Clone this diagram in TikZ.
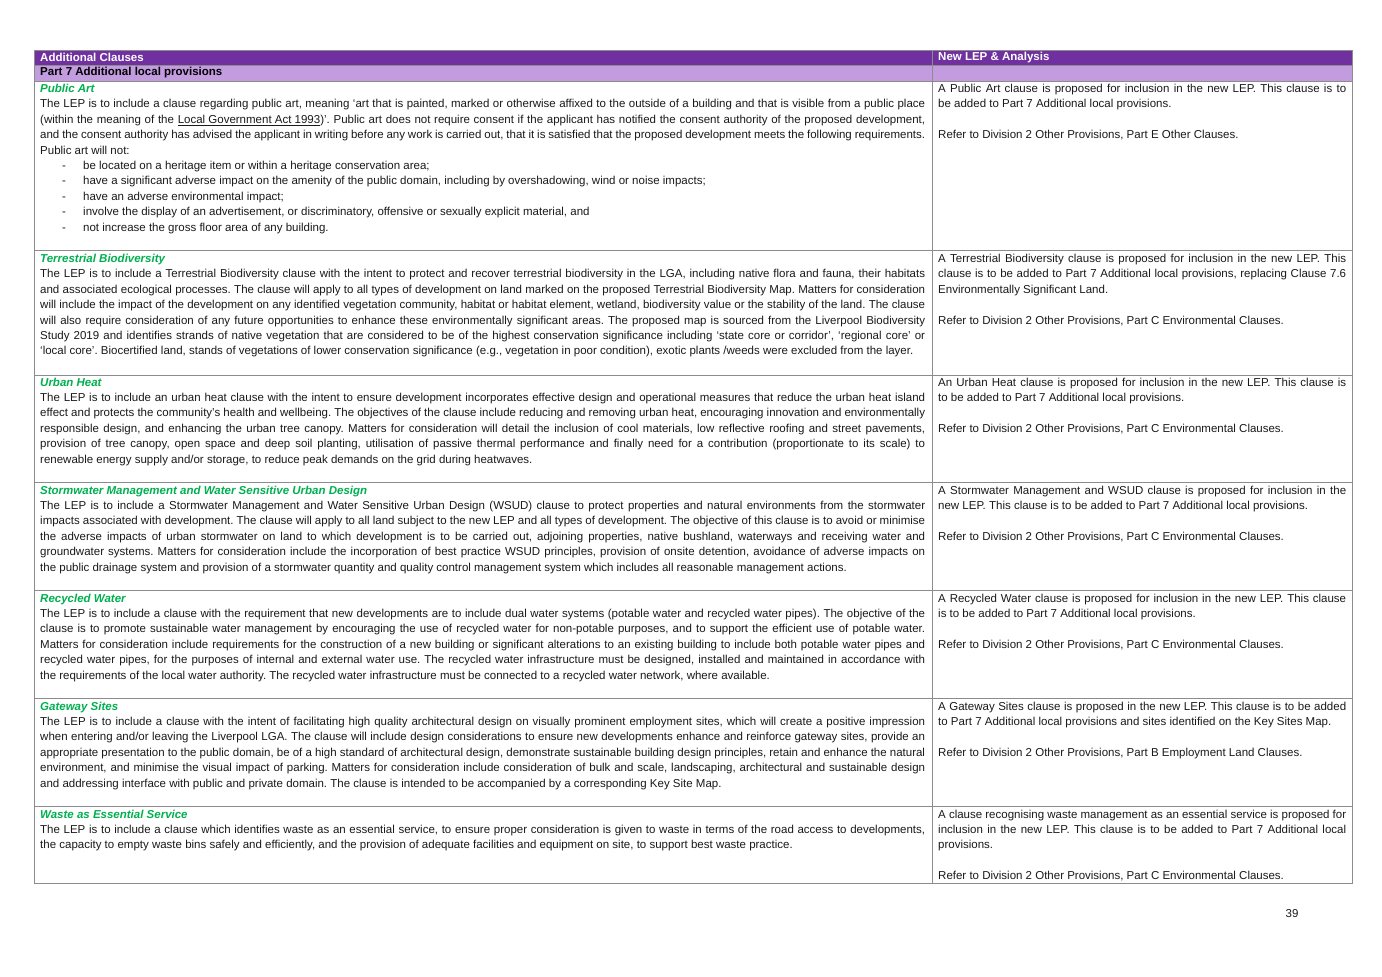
\documentclass[tikz,border=0pt]{standalone}
\usepackage{fontspec}
\setmainfont{Liberation Sans}
\frenchspacing
\definecolor{dpurple}{HTML}{7030A0}
\definecolor{lpurple}{HTML}{C39BDF}
\definecolor{tgreen}{HTML}{00B050}
\definecolor{txt}{HTML}{1A1A1A}
\definecolor{grid}{HTML}{8C8C8C}
\newcommand{\ttl}[1]{{\color{tgreen}\bfseries\itshape #1}\par}
\newcommand{\blankl}{\par\mbox{}\par}
\newcommand{\bul}[1]{\par\hspace*{22pt}\makebox[21pt][l]{-}#1}
\tikzset{
 lcell/.style={anchor=north west,inner sep=0pt,text width=885pt,align=justify,text=txt,font=\fontsize{11.5}{15.4}\selectfont\frenchspacing},
 rcell/.style={lcell,text width=408pt},
 hdr/.style={anchor=west,inner sep=0pt,font=\fontsize{11.5}{12}\selectfont\bfseries}
}
\begin{document}
\begin{tikzpicture}[x=1pt,y=-1pt]
\fill[white] (0,0) rectangle (1382,977);
\useasboundingbox (0,0) rectangle (1382,977);
\fill[dpurple] (34,50) rectangle (1352,65);
\fill[lpurple] (34,65) rectangle (1352,81);
\draw[grid,line width=0.7pt] (34,50) rectangle (1352,883);
\draw[grid,line width=0.7pt] (932,50) -- (932,883);
\foreach \yy in {65,81,250,375,482,590,698,806}
  \draw[grid,line width=0.7pt] (34,\yy) -- (1352,\yy);
\node[hdr,text=white] (h1) at (40,57.5) {Additional Clauses};
\node[hdr,text=white] (h2) at (938,57.5) {New LEP \& Analysis};
\node[hdr,text=black] (h3) at (40,73) {Part 7 Additional local provisions};

\node[lcell] (l1) at (40,84) {\ttl{Public Art}
The LEP is to include a clause regarding public art, meaning ‘art that is painted, marked or otherwise affixed to the outside of a building and that is visible from a public place\linebreak
(within the meaning of the \underline{Local Government Act 1993})’. Public art does not require consent if the applicant has notified the consent authority of the proposed development,\linebreak
and the consent authority has advised the applicant in writing before any work is carried out, that it is satisfied that the proposed development meets the following requirements.\linebreak
Public art will not:
\bul{be located on a heritage item or within a heritage conservation area;}
\bul{have a significant adverse impact on the amenity of the public domain, including by overshadowing, wind or noise impacts;}
\bul{have an adverse environmental impact;}
\bul{involve the display of an advertisement, or discriminatory, offensive or sexually explicit material, and}
\bul{not increase the gross floor area of any building.}};
\node[rcell] (r1) at (938,84) {A Public Art clause is proposed for inclusion in the new LEP. This clause is to\linebreak
be added to Part 7 Additional local provisions.\blankl
Refer to Division 2 Other Provisions, Part E Other Clauses.};

\node[lcell] (l2) at (40,254) {\ttl{Terrestrial Biodiversity}
The LEP is to include a Terrestrial Biodiversity clause with the intent to protect and recover terrestrial biodiversity in the LGA, including native flora and fauna, their habitats\linebreak
and associated ecological processes. The clause will apply to all types of development on land marked on the proposed Terrestrial Biodiversity Map. Matters for consideration\linebreak
will include the impact of the development on any identified vegetation community, habitat or habitat element, wetland, biodiversity value or the stability of the land. The clause\linebreak
will also require consideration of any future opportunities to enhance these environmentally significant areas. The proposed map is sourced from the Liverpool Biodiversity\linebreak
Study 2019 and identifies strands of native vegetation that are considered to be of the highest conservation significance including ‘state core or corridor’, ‘regional core’ or\linebreak
‘local core’. Biocertified land, stands of vegetations of lower conservation significance (e.g., vegetation in poor condition), exotic plants /weeds were excluded from the layer.};
\node[rcell] (r2) at (938,254) {A Terrestrial Biodiversity clause is proposed for inclusion in the new LEP. This\linebreak
clause is to be added to Part 7 Additional local provisions, replacing Clause 7.6\linebreak
Environmentally Significant Land.\blankl
Refer to Division 2 Other Provisions, Part C Environmental Clauses.};

\node[lcell] (l3) at (40,377.5) {\ttl{Urban Heat}
The LEP is to include an urban heat clause with the intent to ensure development incorporates effective design and operational measures that reduce the urban heat island\linebreak
effect and protects the community’s health and wellbeing. The objectives of the clause include reducing and removing urban heat, encouraging innovation and environmentally\linebreak
responsible design, and enhancing the urban tree canopy. Matters for consideration will detail the inclusion of cool materials, low reflective roofing and street pavements,\linebreak
provision of tree canopy, open space and deep soil planting, utilisation of passive thermal performance and finally need for a contribution (proportionate to its scale) to\linebreak
renewable energy supply and/or storage, to reduce peak demands on the grid during heatwaves.};
\node[rcell] (r3) at (938,377.5) {An Urban Heat clause is proposed for inclusion in the new LEP. This clause is\linebreak
to be added to Part 7 Additional local provisions.\blankl
Refer to Division 2 Other Provisions, Part C Environmental Clauses.};

\node[lcell] (l4) at (40,485.5) {\ttl{Stormwater Management and Water Sensitive Urban Design}
The LEP is to include a Stormwater Management and Water Sensitive Urban Design (WSUD) clause to protect properties and natural environments from the stormwater\linebreak
impacts associated with development. The clause will apply to all land subject to the new LEP and all types of development. The objective of this clause is to avoid or minimise\linebreak
the adverse impacts of urban stormwater on land to which development is to be carried out, adjoining properties, native bushland, waterways and receiving water and\linebreak
groundwater systems. Matters for consideration include the incorporation of best practice WSUD principles, provision of onsite detention, avoidance of adverse impacts on\linebreak
the public drainage system and provision of a stormwater quantity and quality control management system which includes all reasonable management actions.};
\node[rcell] (r4) at (938,485.5) {A Stormwater Management and WSUD clause is proposed for inclusion in the\linebreak
new LEP. This clause is to be added to Part 7 Additional local provisions.\blankl
Refer to Division 2 Other Provisions, Part C Environmental Clauses.};

\node[lcell] (l5) at (40,593.5) {\ttl{Recycled Water}
The LEP is to include a clause with the requirement that new developments are to include dual water systems (potable water and recycled water pipes). The objective of the\linebreak
clause is to promote sustainable water management by encouraging the use of recycled water for non-potable purposes, and to support the efficient use of potable water.\linebreak
Matters for consideration include requirements for the construction of a new building or significant alterations to an existing building to include both potable water pipes and\linebreak
recycled water pipes, for the purposes of internal and external water use. The recycled water infrastructure must be designed, installed and maintained in accordance with\linebreak
the requirements of the local water authority. The recycled water infrastructure must be connected to a recycled water network, where available.};
\node[rcell] (r5) at (938,593.5) {A Recycled Water clause is proposed for inclusion in the new LEP. This clause\linebreak
is to be added to Part 7 Additional local provisions.\blankl
Refer to Division 2 Other Provisions, Part C Environmental Clauses.};

\node[lcell] (l6) at (40,701.5) {\ttl{Gateway Sites}
The LEP is to include a clause with the intent of facilitating high quality architectural design on visually prominent employment sites, which will create a positive impression\linebreak
when entering and/or leaving the Liverpool LGA. The clause will include design considerations to ensure new developments enhance and reinforce gateway sites, provide an\linebreak
appropriate presentation to the public domain, be of a high standard of architectural design, demonstrate sustainable building design principles, retain and enhance the natural\linebreak
environment, and minimise the visual impact of parking. Matters for consideration include consideration of bulk and scale, landscaping, architectural and sustainable design\linebreak
and addressing interface with public and private domain. The clause is intended to be accompanied by a corresponding Key Site Map.};
\node[rcell] (r6) at (938,701.5) {A Gateway Sites clause is proposed in the new LEP. This clause is to be added\linebreak
to Part 7 Additional local provisions and sites identified on the Key Sites Map.\blankl
Refer to Division 2 Other Provisions, Part B Employment Land Clauses.};

\node[lcell] (l7) at (40,809.5) {\ttl{Waste as Essential Service}
The LEP is to include a clause which identifies waste as an essential service, to ensure proper consideration is given to waste in terms of the road access to developments,\linebreak
the capacity to empty waste bins safely and efficiently, and the provision of adequate facilities and equipment on site, to support best waste practice.};
\node[rcell] (r7) at (938,809.5) {A clause recognising waste management as an essential service is proposed for\linebreak
inclusion in the new LEP. This clause is to be added to Part 7 Additional local\linebreak
provisions.\blankl
Refer to Division 2 Other Provisions, Part C Environmental Clauses.};

\node[anchor=center,inner sep=0pt,text=txt,font=\fontsize{11.5}{12}\selectfont] (pg) at (1292,914) {39};
\end{tikzpicture}
\end{document}
